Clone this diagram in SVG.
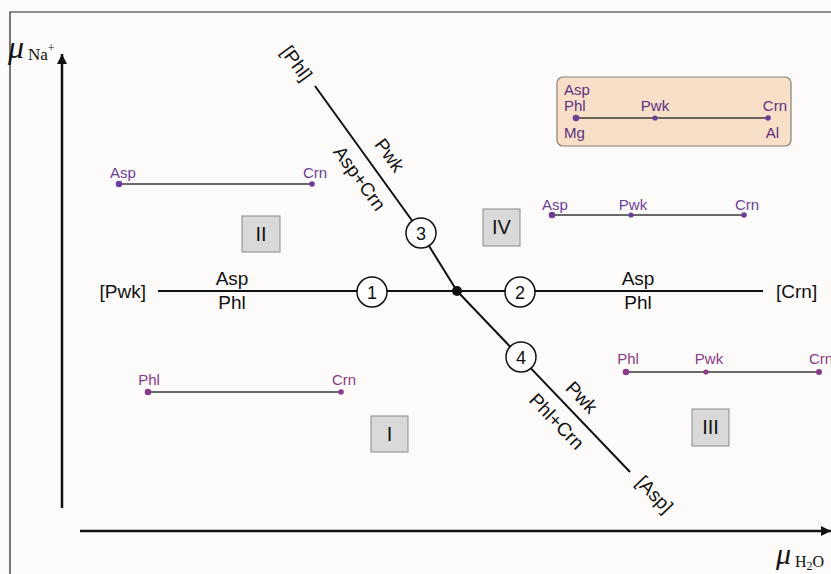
<svg xmlns="http://www.w3.org/2000/svg" width="831" height="574" viewBox="0 0 831 574">
  <style>
    .lbl { font-family: "Liberation Sans", Arial, sans-serif; font-size: 19px; fill: #111; }
    .num { font-family: "Liberation Sans", Arial, sans-serif; font-size: 18px; fill: #111; text-anchor: middle; }
    .rom { font-family: "Liberation Sans", Arial, sans-serif; font-size: 20px; fill: #111; text-anchor: middle; }
    .pv { font-family: "Liberation Sans", Arial, sans-serif; font-size: 15px; fill: #6b3f98; }
    .pm { font-family: "Liberation Sans", Arial, sans-serif; font-size: 15px; fill: #8a3a88; }
    .lg { font-family: "Liberation Sans", Arial, sans-serif; font-size: 15px; fill: #5a2f80; }
    .ser { font-family: "Liberation Serif", "Times New Roman", serif; fill: #111; }
    .bnd { stroke: #111; stroke-width: 2; fill: none; }
    .tie { stroke: #3a3a3a; stroke-width: 1.6; }
    .circ { fill: #fff; stroke: #111; stroke-width: 1.5; }
    .box { fill: #d9d9d9; stroke: #8a8a8a; stroke-width: 1; }
    .dv { fill: #6b3f98; }
    .dm { fill: #8a3a88; }
  </style>
  <defs>
    <marker id="arr" viewBox="0 0 10 10" refX="10" refY="5" markerWidth="10" markerHeight="10" markerUnits="userSpaceOnUse" orient="auto">
      <path d="M0,0 L10,5 L0,10 z" fill="#111"/>
    </marker>
  </defs>

  <rect x="0" y="0" width="831" height="574" fill="#fdfbfa"/>
  <!-- frame -->
  <path d="M10,574 V12 H831" fill="none" stroke="#222" stroke-width="1.2"/>

  <!-- axes -->
  <g id="axes">
    <line x1="62" y1="508" x2="62" y2="54" stroke="#111" stroke-width="2.5" marker-end="url(#arr)"/>
    <line x1="80" y1="531" x2="831" y2="531" stroke="#111" stroke-width="2.5" marker-end="url(#arr)"/>
    <text class="ser" x="8" y="58" font-size="32" font-style="italic">μ</text>
    <text class="ser" x="28" y="60" font-size="17">Na<tspan dy="-8" font-size="12">+</tspan></text>
    <text class="ser" x="776" y="564" font-size="30" font-style="italic">μ</text>
    <text class="ser" x="795" y="567" font-size="16">H<tspan dy="3" font-size="12">2</tspan><tspan dy="-3">O</tspan></text>
  </g>

  <!-- univariant reaction lines -->
  <g id="connectors">
    <line class="bnd" x1="158" y1="291" x2="763" y2="291"/>
    <polyline class="bnd" points="315,86 421,233 457,291"/>
    <line class="bnd" x1="457" y1="291" x2="630" y2="472"/>
    <circle cx="457" cy="291" r="5" fill="#111"/>
  </g>

  <g id="line-labels">
    <text class="lbl" x="146" y="298" text-anchor="end">[Pwk]</text>
    <text class="lbl" x="776" y="298">[Crn]</text>
    <text class="lbl" x="232" y="285" text-anchor="middle">Asp</text>
    <text class="lbl" x="232" y="309" text-anchor="middle">Phl</text>
    <text class="lbl" x="638" y="285" text-anchor="middle">Asp</text>
    <text class="lbl" x="638" y="309" text-anchor="middle">Phl</text>
    <text class="lbl" text-anchor="middle" transform="translate(297,63) rotate(54)" dy="7">[Phl]</text>
    <text class="lbl" text-anchor="middle" transform="translate(390,155) rotate(54)" dy="7">Pwk</text>
    <text class="lbl" text-anchor="middle" transform="translate(360,178) rotate(54)" dy="7">Asp+Crn</text>
    <text class="lbl" text-anchor="middle" transform="translate(582,397) rotate(46)" dy="7">Pwk</text>
    <text class="lbl" text-anchor="middle" transform="translate(557,421) rotate(46)" dy="7">Phl+Crn</text>
    <text class="lbl" text-anchor="middle" transform="translate(655,494) rotate(46)" dy="7">[Asp]</text>
  </g>

  <!-- invariant point labels -->
  <g id="n1"><circle class="circ" cx="372" cy="292" r="15"/><text class="num" x="372" y="298.5">1</text></g>
  <g id="n2"><circle class="circ" cx="520" cy="292" r="15"/><text class="num" x="520" y="298.5">2</text></g>
  <g id="n3"><circle class="circ" cx="421" cy="233" r="15"/><text class="num" x="421" y="239.5">3</text></g>
  <g id="n4"><circle class="circ" cx="521" cy="357" r="15"/><text class="num" x="521" y="363.5">4</text></g>

  <!-- field numbers -->
  <g id="fieldI"><rect class="box" x="371" y="416" width="37" height="36"/><text class="rom" x="389.5" y="441">I</text></g>
  <g id="fieldII"><rect class="box" x="242" y="216" width="38" height="36"/><text class="rom" x="261" y="241">II</text></g>
  <g id="fieldIII"><rect class="box" x="692" y="409" width="37" height="37"/><text class="rom" x="710.5" y="434">III</text></g>
  <g id="fieldIV"><rect class="box" x="483" y="209" width="37" height="37"/><text class="rom" x="501.5" y="234">IV</text></g>

  <!-- phase diagrams per field -->
  <g id="tieII">
    <line class="tie" x1="119" y1="184" x2="312" y2="184"/>
    <circle class="dv" cx="119" cy="184" r="3.3"/><circle class="dv" cx="312" cy="184" r="2.8"/>
    <text class="pv" x="123" y="178" text-anchor="middle">Asp</text>
    <text class="pv" x="315" y="178" text-anchor="middle">Crn</text>
  </g>
  <g id="tieIV">
    <line class="tie" x1="552" y1="215" x2="744" y2="215"/>
    <circle class="dv" cx="552" cy="215" r="3.3"/><circle class="dv" cx="631" cy="215" r="2.6"/><circle class="dv" cx="744" cy="215" r="2.8"/>
    <text class="pv" x="555" y="210" text-anchor="middle">Asp</text>
    <text class="pv" x="633" y="210" text-anchor="middle">Pwk</text>
    <text class="pv" x="747" y="210" text-anchor="middle">Crn</text>
  </g>
  <g id="tieI">
    <line class="tie" x1="148" y1="392" x2="341" y2="392"/>
    <circle class="dm" cx="148" cy="392" r="3.3"/><circle class="dm" cx="341" cy="392" r="2.8"/>
    <text class="pm" x="149" y="385" text-anchor="middle">Phl</text>
    <text class="pm" x="344" y="385" text-anchor="middle">Crn</text>
  </g>
  <g id="tieIII">
    <line class="tie" x1="626" y1="372" x2="819" y2="372"/>
    <circle class="dm" cx="626" cy="372" r="3.3"/><circle class="dm" cx="706" cy="372" r="2.6"/><circle class="dm" cx="819" cy="372" r="3"/>
    <text class="pm" x="628" y="364" text-anchor="middle">Phl</text>
    <text class="pm" x="709" y="364" text-anchor="middle">Pwk</text>
    <text class="pm" x="821" y="364" text-anchor="middle">Crn</text>
  </g>

  <!-- legend -->
  <g id="legend">
    <rect x="557" y="77" width="234" height="69" rx="6" fill="#f8dfc7" stroke="#8a7f77" stroke-width="1.2"/>
    <line class="tie" x1="576" y1="118" x2="768" y2="118"/>
    <circle class="dv" cx="576" cy="118" r="3.3"/><circle class="dv" cx="655" cy="118" r="2.6"/><circle class="dv" cx="768" cy="118" r="2.8"/>
    <text class="lg" x="564" y="95">Asp</text>
    <text class="lg" x="564" y="111">Phl</text>
    <text class="lg" x="564" y="138">Mg</text>
    <text class="lg" x="655" y="111" text-anchor="middle">Pwk</text>
    <text class="lg" x="787" y="111" text-anchor="end">Crn</text>
    <text class="lg" x="779" y="138" text-anchor="end">Al</text>
  </g>
</svg>
